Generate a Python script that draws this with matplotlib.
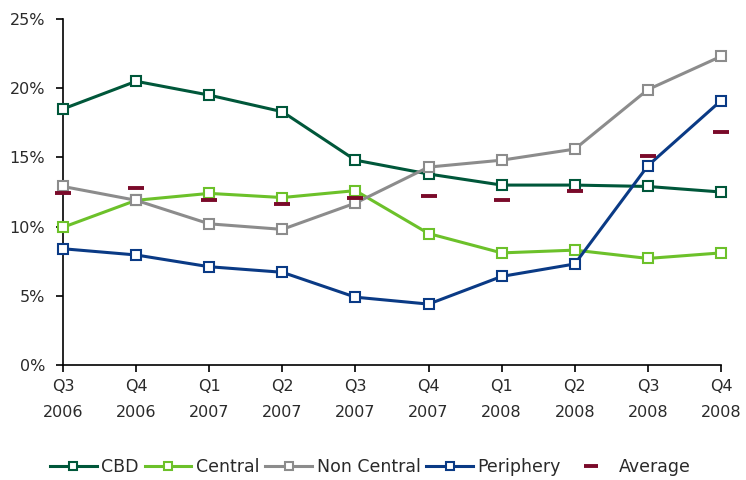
import matplotlib
matplotlib.use("Agg")
import matplotlib.pyplot as plt
from matplotlib.ticker import PercentFormatter

quarters = ["Q3\n2006", "Q4\n2006", "Q1\n2007", "Q2\n2007", "Q3\n2007",
            "Q4\n2007", "Q1\n2008", "Q2\n2008", "Q3\n2008", "Q4\n2008"]
cbd = [18.5, 20.5, 19.5, 18.3, 14.8, 13.8, 13.0, 13.0, 12.9, 12.5]
central = [9.95, 11.9, 12.4, 12.1, 12.6, 9.5, 8.1, 8.3, 7.7, 8.1]
non_central = [12.9, 11.9, 10.2, 9.8, 11.7, 14.3, 14.8, 15.6, 19.9, 22.3]
periphery = [8.4, 7.95, 7.1, 6.7, 4.9, 4.4, 6.4, 7.3, 14.4, 19.1]
average = [12.4, 12.8, 11.95, 11.6, 12.1, 12.2, 11.95, 12.6, 15.1, 16.8]
yticks = [0, 5, 10, 15, 20, 25]

plt.rcParams['font.family'] = ['DejaVu Sans']
fig = plt.figure(figsize=(7.46, 4.80), dpi=100)
ax = fig.add_axes([63/746, 1-365/480, (721-63)/746, (365-19)/480])

x = list(range(len(quarters)))
series = [("CBD", cbd, "#00573a"), ("Central", central, "#6cc12a"),
          ("Non Central", non_central, "#8c8c8c"), ("Periphery", periphery, "#0a3a85")]
for name, vals, col in series:
    ax.plot(x, vals, color=col, lw=2.2, marker='s', ms=7.5, mfc='white',
            mec=col, mew=1.5, label=name, zorder=3, clip_on=False)
ax.plot(x, average, ls='none', marker='_', ms=12, mew=2.8, color='#7a0a2a',
        label='Average', zorder=4, clip_on=False)

ax.set_xlim(0, 9)
ax.set_ylim(0, 25)
ax.set_yticks(yticks)
ax.yaxis.set_major_formatter(PercentFormatter(decimals=0))
ax.set_xticks(x)
ax.set_xticklabels(quarters, linespacing=1.9)
for s in ['top', 'right']:
    ax.spines[s].set_visible(False)
for s in ['left', 'bottom']:
    ax.spines[s].set_linewidth(1.2)
    ax.spines[s].set_color('black')
ax.tick_params(axis='y', length=5, width=1.2, pad=8, labelsize=11.5)
ax.tick_params(axis='x', length=5, width=1.2, pad=5, labelsize=11.5)
ax.tick_params(colors='black', which='both', labelcolor='#2a2a2a')

leg = fig.legend(loc='center', bbox_to_anchor=(370/746, 1-467/480), ncol=5,
                 frameon=False, fontsize=12.5, handlelength=2.7,
                 handletextpad=0.25, columnspacing=0.35, markerscale=0.8)
for t in leg.get_texts():
    t.set_color('#2a2a2a')
fig.savefig("out.png", dpi=100)
